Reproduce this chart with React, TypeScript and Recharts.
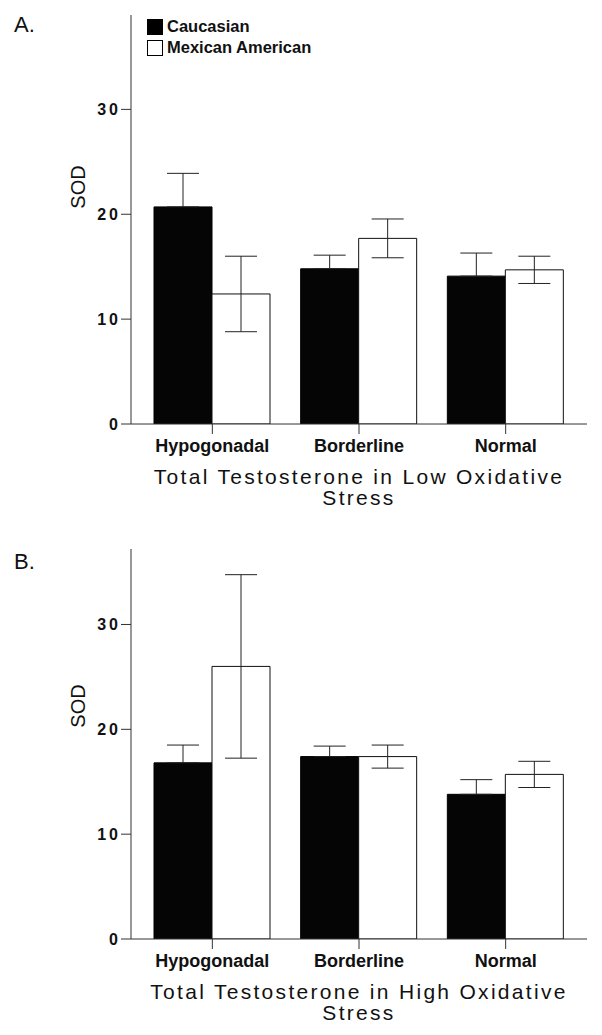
import React from 'react';
import { BarChart, Bar, XAxis, YAxis, ErrorBar } from 'recharts';

const categories = ['Hypogonadal', 'Borderline', 'Normal'];
const yTicks = [0, 10, 20, 30];

const lowCaucasian = [20.7, 14.8, 14.1];
const lowCaucasianErr = [3.2, 1.3, 2.2];
const lowMexican = [12.4, 17.7, 14.7];
const lowMexicanErr = [3.6, 1.85, 1.3];

const highCaucasian = [16.8, 17.4, 13.8];
const highCaucasianErr = [1.7, 1.0, 1.4];
const highMexican = [26.0, 17.4, 15.7];
const highMexicanErr = [8.75, 1.1, 1.25];

const seriesNames = ['Caucasian', 'Mexican American'];
const titleA = ['Total Testosterone in Low Oxidative', 'Stress'];
const titleB = ['Total Testosterone in High Oxidative', 'Stress'];

const FONT = '"Liberation Sans", Arial, Helvetica, sans-serif';
const AXIS = '#333';

function build(c: number[], ce: number[], m: number[], me: number[]) {
  return categories.map((name, i) => ({
    name,
    cau: c[i],
    // lower whisker lies hidden inside the black bar
    cauErr: [0, ce[i]],
    mex: m[i],
    mexErr: me[i],
  }));
}

const dataA = build(lowCaucasian, lowCaucasianErr, lowMexican, lowMexicanErr);
const dataB = build(highCaucasian, highCaucasianErr, highMexican, highMexicanErr);

const YTick = (props: any) => {
  const { x, y, payload } = props;
  return (
    <text
      x={x}
      y={y}
      dy={5.5}
      textAnchor="end"
      fontFamily={FONT}
      fontWeight="bold"
      fontSize={16}
      letterSpacing={3}
      fill="#111"
    >
      {payload.value}
    </text>
  );
};

const XTick = (props: any) => {
  const { x, y, payload } = props;
  return (
    <text
      x={x}
      y={y + 16}
      textAnchor="middle"
      fontFamily={FONT}
      fontWeight="bold"
      fontSize={18}
      fill="#111"
    >
      {payload.value}
    </text>
  );
};

const makeTitle = (lines: string[]) => (props: any) => {
  const vb = props.viewBox || {};
  const cx = vb.x + vb.width / 2;
  return (
    <text
      x={cx}
      y={vb.y + 60}
      textAnchor="middle"
      fontFamily={FONT}
      fontSize={21}
      letterSpacing={2.3}
      fill="#111"
    >
      <tspan x={cx}>{lines[0]}</tspan>
      <tspan x={cx} dy={21}>{lines[1]}</tspan>
    </text>
  );
};

const LegendBox = () => (
  <div
    style={{
      position: 'absolute',
      left: 147,
      top: 16,
      fontFamily: FONT,
      fontWeight: 'bold',
      fontSize: 16.5,
      color: '#111',
    }}
  >
    {seriesNames.map((n, i) => (
      <div key={n} style={{ display: 'flex', alignItems: 'center', height: 21 }}>
        <span
          style={{
            display: 'inline-block',
            width: 14,
            height: 14,
            background: i === 0 ? '#000' : '#fff',
            border: '1px solid #000',
            marginRight: 4,
          }}
        />
        <span style={{ lineHeight: '21px' }}>{n}</span>
      </div>
    ))}
  </div>
);

const SOD = (props: any) => {
  const { cy } = props;
  return (
    <text
      x={0}
      y={0}
      transform={`translate(85, ${cy}) rotate(-90)`}
      textAnchor="middle"
      fontFamily={FONT}
      fontSize={20}
      fill="#111"
    >
      SOD
    </text>
  );
};

type PanelProps = {
  data: any[];
  height: number;
  yMax: number;
  title: string[];
  sodY: number;
};

const Panel = ({ data, height, yMax, title, sodY }: PanelProps) => (
  <BarChart
    width={602}
    height={height}
    data={data}
    margin={{ top: 15, right: 15, left: 0, bottom: 0 }}
    barCategoryGap={15}
    barGap={0}
  >
    <XAxis
      dataKey="name"
      height={96}
      padding={{ left: 8, right: 8 }}
      axisLine={{ stroke: AXIS, strokeWidth: 1 }}
      tickLine={{ stroke: AXIS, strokeWidth: 1 }}
      tickSize={10}
      tick={<XTick />}
      interval={0}
      label={{ content: makeTitle(title) } as any}
    />
    <YAxis
      width={131}
      domain={[0, yMax]}
      ticks={yTicks}
      allowDataOverflow
      axisLine={{ stroke: AXIS, strokeWidth: 1 }}
      tickLine={{ stroke: AXIS, strokeWidth: 1 }}
      tickSize={10}
      tickMargin={0}
      tick={<YTick />}
      label={{ content: () => <SOD cy={sodY} /> } as any}
    />
    <Bar dataKey="cau" name={seriesNames[0]} fill="#050505" stroke="#000" strokeWidth={1} isAnimationActive={false}>
      <ErrorBar dataKey="cauErr" width={16} stroke="#222" strokeWidth={1} direction="y" />
    </Bar>
    <Bar dataKey="mex" name={seriesNames[1]} fill="#fff" stroke="#111" strokeWidth={1} isAnimationActive={false}>
      <ErrorBar dataKey="mexErr" width={16} stroke="#222" strokeWidth={1} direction="y" />
    </Bar>
  </BarChart>
);

const PanelLetter = ({ text, top }: { text: string; top: number }) => (
  <div
    style={{
      position: 'absolute',
      left: 14,
      top,
      fontFamily: FONT,
      fontSize: 22,
      lineHeight: '22px',
      color: '#111',
    }}
  >
    {text}
  </div>
);

export default function App() {
  return (
    <div style={{ position: 'absolute', left: 0, top: 0, width: 602, height: 1035, background: '#fff', overflow: 'hidden' }}>
      <div style={{ position: 'absolute', left: 0, top: 0 }}>
        <Panel data={dataA} height={520} yMax={39} title={titleA} sodY={187} />
      </div>
      <div style={{ position: 'absolute', left: 0, top: 534 }}>
        <Panel data={dataB} height={501} yMax={37.2} title={titleB} sodY={172} />
      </div>
      <LegendBox />
      <PanelLetter text="A." top={14} />
      <PanelLetter text="B." top={551} />
    </div>
  );
}
